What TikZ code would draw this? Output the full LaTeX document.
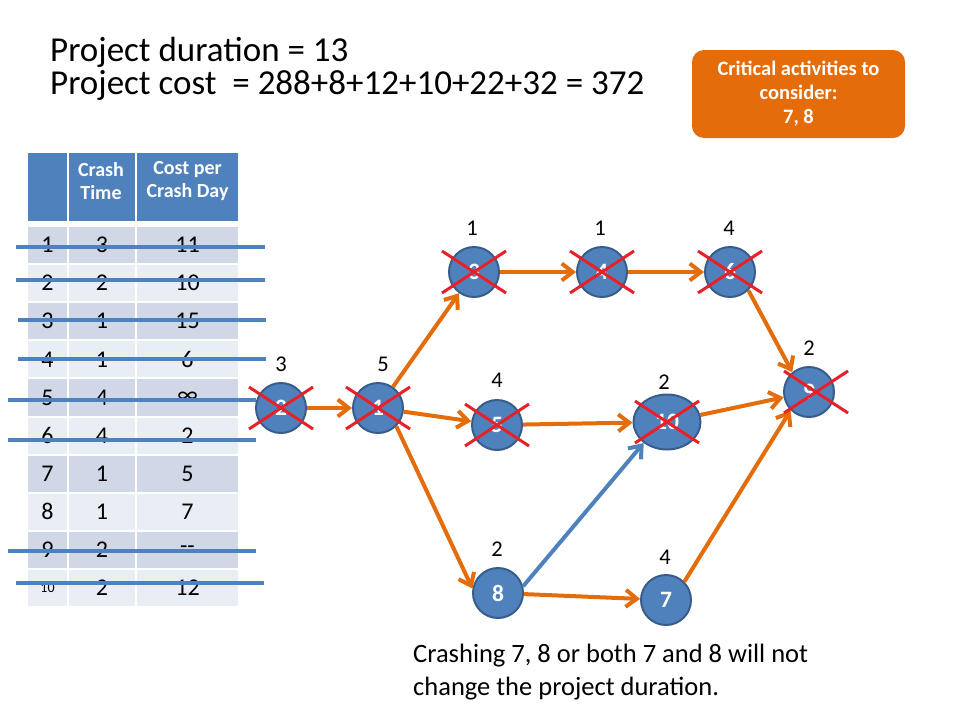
\documentclass[tikz,border=0pt]{standalone}
\usepackage{fontspec}
\setmainfont{Carlito}
\usetikzlibrary{arrows.meta,shapes.geometric,calc}
\definecolor{actblue}{HTML}{4F81BD}
\definecolor{actedge}{HTML}{385D8A}
\definecolor{pathorange}{HTML}{E46C0A}
\definecolor{crossred}{HTML}{E82128}
\definecolor{rowdark}{HTML}{D0D8E8}
\definecolor{rowlight}{HTML}{E9EDF4}
\newcommand\fsz[2]{\fontsize{#1}{#2}\selectfont}
\newcommand\smallten{{\fsz{14}{14}10}}
\tikzset{
  activity/.style={circle,draw=actedge,fill=actblue,line width=2pt,minimum size=50pt,inner sep=0pt,text=white,font=\fsz{23.5}{24}\bfseries},
  crit/.style={draw=pathorange,line width=4pt,-{Straight Barb[length=11pt,width=17pt]}},
  slack/.style={crit,draw=actblue},
  weight/.style={font=\fsz{22.5}{23}},
  crossout/.style={draw=crossred,line width=3pt},
  strike/.style={draw=actblue,line width=4pt},
  cell/.style={draw=white,line width=2pt},
  cellnum/.style={font=\fsz{24}{24}},
}
\begin{document}
\begin{tikzpicture}[x=1pt,y=-1pt]
\useasboundingbox (0,0) rectangle (960,720);

\node[anchor=base west,inner sep=0,font=\fsz{35}{40}] (duration) at (50,61) {Project duration = 13};
\node[anchor=base west,inner sep=0,font=\fsz{35}{40}] (cost) at (50,94) {Project cost\ \ = 288+8+12+10+22+32 = 372};

\node[fill=pathorange,rounded corners=12pt,minimum width=213pt,minimum height=88pt,text=white,align=center,font=\fsz{20.5}{24}\bfseries] (critbox) at (798.5,94) {Critical activities to\\consider:\\7, 8};

% table
\foreach \xa/\xb in {27/68,68/136,136/239}
  \path[cell,fill=actblue] (\xa,152) rectangle (\xb,222);
\node[font=\fsz{20}{23}\bfseries,text=white,align=center] (hcrash) at (101,181) {Crash\\Time};
\node[font=\fsz{20}{23}\bfseries,text=white,align=center] (hcost) at (187.5,181) {Cost per\\Crash Day};
\foreach \a/\b/\c [count=\i] in {1/3/11,2/2/10,3/1/15,4/1/6,5/4/∞,6/4/2,7/1/5,8/1/7,9/2/-{}-,\smallten/2/12}{
  \pgfmathsetmacro\ytop{226+(\i-1)*38.1}
  \pgfmathsetmacro\ybot{\ytop+38.1}
  \pgfmathsetmacro\ymid{\ytop+19.05}
  \ifodd\i \def\rowcol{rowdark}\else\def\rowcol{rowlight}\fi
  \foreach \xa/\xb in {27/68,68/136,136/239}
    \path[cell,fill=\rowcol] (\xa,\ytop) rectangle (\xb,\ybot);
  \node[cellnum] (id\i) at (47.5,\ymid) {\a};
  \node[cellnum] (ct\i) at (102,\ymid) {\b};
  \node[cellnum] (cc\i) at (187.5,\ymid) {\c};
}
\foreach \y/\xa/\xb in {247/16/265,280/16/265,320/18/266,359/18/266,400/8/256,440/8/256,551/8/256,583/16/264}
  \draw[strike] (\xa,\y) -- (\xb,\y);

% network
\node[activity] (n2) at (281,408) {2};
\node[activity] (n1) at (378,408) {1};
\node[activity] (n3) at (474,272) {3};
\node[activity] (n4) at (602,272) {4};
\node[activity] (n6) at (730,272) {6};
\node[activity] (n5) at (497,425) {5};
\node[activity,ellipse,minimum width=67pt,minimum height=55pt] (n10) at (667,422) {10};
\node[activity] (n9) at (809,392) {9};
\node[activity] (n8) at (498,593) {8};
\node[activity] (n7) at (666,600) {7};

\node[weight] (w2) at (281,364) {3};
\node[weight] (w1) at (383,364) {5};
\node[weight] (w3) at (472,228) {1};
\node[weight] (w4) at (600,228) {1};
\node[weight] (w6) at (729,228) {4};
\node[weight] (w5) at (497,380) {4};
\node[weight] (w10) at (664,382) {2};
\node[weight] (w9) at (809,348) {2};
\node[weight] (w8) at (497,549) {2};
\node[weight] (w7) at (665,557) {4};

\draw[crit] (n2) -- (n1);
\draw[crit] (n1) -- (n3);
\draw[crit] (n1) -- (n5);
\draw[crit] (n1.-45) -- (n8.170);
\draw[crit] (n3) -- (n4);
\draw[crit] (n4) -- (n6);
\draw[crit] (n6.-45) -- (n9.130);
\draw[crit] (n5) -- (n10);
\draw[crit] (n10) -- (n9);
\draw[crit] (n8) -- (n7);
\draw[crit] (n7.45) -- (n9.-135);
\draw[slack] (n8.15) -- (n10.-138);

\foreach \n/\dx in {n2/0,n1/0,n3/0,n4/0,n6/0,n5/0,n10/0,n9/7}
  \draw[crossout] ($(\n)+(\dx-32,-21)$) -- ($(\n)+(\dx+32,21)$)
                  ($(\n)+(\dx-32,21)$) -- ($(\n)+(\dx+32,-21)$);

\node[anchor=north west,inner sep=0,align=left,font=\fsz{26.5}{33}] (note) at (413,644) {Crashing 7, 8 or both 7 and 8 will not\\change the project duration.};
\end{tikzpicture}
\end{document}
